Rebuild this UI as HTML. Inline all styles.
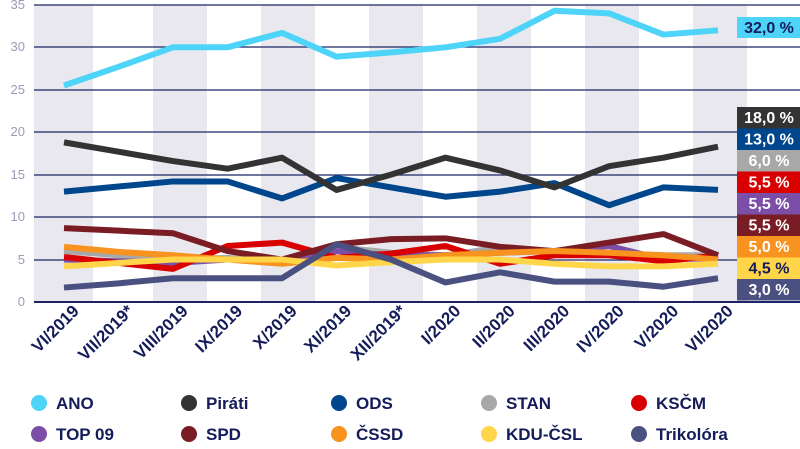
<!DOCTYPE html>
<html><head><meta charset="utf-8"><style>
body{margin:0;background:#fff;}
svg{display:block;font-family:"Liberation Sans",sans-serif;}
</style></head><body>
<svg width="800" height="449" viewBox="0 0 800 449">
<g fill="#e8e8ee">
<rect x="34" y="5" width="59" height="297"/>
<rect x="153" y="5" width="54" height="297"/>
<rect x="261" y="5" width="54" height="297"/>
<rect x="369" y="5" width="54" height="297"/>
<rect x="477" y="5" width="54" height="297"/>
<rect x="585" y="5" width="54" height="297"/>
<rect x="693" y="5" width="54" height="297"/>
</g>
<g stroke="#1c2466" stroke-width="1.3">
<line x1="34" x2="800" y1="5" y2="5"/><line x1="34" x2="800" y1="47" y2="47"/>
<line x1="34" x2="800" y1="90" y2="90"/><line x1="34" x2="800" y1="132" y2="132"/>
<line x1="34" x2="800" y1="175" y2="175"/><line x1="34" x2="800" y1="217" y2="217"/>
<line x1="34" x2="800" y1="260" y2="260"/><line x1="34" x2="800" y1="302" y2="302" stroke-width="2"/>
</g>
<g fill="#9a9cb8" font-size="13" text-anchor="end">
<text x="25" y="9">35</text><text x="25" y="51">30</text><text x="25" y="94">25</text>
<text x="25" y="136">20</text><text x="25" y="179">15</text><text x="25" y="221">10</text>
<text x="25" y="264">5</text><text x="25" y="306">0</text>
</g>
<g fill="none" stroke-width="6" stroke-linejoin="round" id="lines"></g>
<g font-size="17" font-weight="bold" fill="#141c5a" text-anchor="end" id="xl"></g>
<rect x="737" y="17" width="63" height="21" fill="#4dd4f8"/>
<text x="769" y="33" text-anchor="middle" font-size="16" font-weight="bold" fill="#141c5a">32,0 %</text>
<g id="boxes" font-size="16" font-weight="bold" text-anchor="middle"></g>
<g font-size="17" font-weight="bold" fill="#141c5a" id="leg"></g>
</svg>
<script>
var ns="http://www.w3.org/2000/svg";
function el(t,a,p,txt){var e=document.createElementNS(ns,t);for(var k in a)e.setAttribute(k,a[k]);if(txt)e.textContent=txt;p.appendChild(e);return e;}
function X(i){return 64+i*54.5;}function Y(v){return 302-v*8.49;}
var S=[
["#a8a8a8",[6,5.5,5,5.2,4.8,6.5,5.8,5.5,6.4,5.8,5.6,5.5,5.5]],
["#7b4fa8",[5,4.8,4.6,5,5,6,5.5,5.5,5.8,6,6.6,5,5.2]],
["#d80000",[5.3,4.6,3.9,6.6,7,5.2,5.7,6.6,4.5,5.5,5.5,4.8,5.5]],
["#7a1c24",[8.7,8.4,8.1,6,5,6.8,7.4,7.5,6.5,6,7,8,5.5]],
["#f7931e",[6.5,5.9,5.5,5,4.5,5.2,5,5.5,5.8,6,5.8,5.5,5.0]],
["#ffd54a",[4.2,4.6,5,5,5,4.3,4.7,5,5,4.5,4.2,4.2,4.5]],
["#4a5080",[1.7,2.2,2.8,2.8,2.8,6.8,5,2.3,3.5,2.4,2.4,1.8,2.8]],
["#00468c",[13,13.6,14.2,14.2,12.2,14.6,13.5,12.4,13,14,11.4,13.5,13.2]],
["#333333",[18.8,17.7,16.6,15.7,17,13.2,15,17,15.5,13.5,16,17,18.3]],
["#4dd4f8",[25.5,27.7,30,30,31.7,28.9,29.4,30,31,34.3,34,31.5,32]]];
var L=document.getElementById("lines");
S.forEach(function(s){el("polyline",{points:s[1].map(function(v,i){return X(i)+","+Y(v)}).join(" "),stroke:s[0]},L);});
var labs=["VI/2019","VII/2019*","VIII/2019","IX/2019","X/2019","XI/2019","XII/2019*","I/2020","II/2020","III/2020","IV/2020","V/2020","VI/2020"];
var XL=document.getElementById("xl");
labs.forEach(function(t,i){var x=X(i)+16,y=312;el("text",{x:x,y:y,transform:"rotate(-45 "+x+" "+y+")"},XL,t);});
var B=[["#333333","#fff","18,0 %"],["#00468c","#fff","13,0 %"],["#a8a8a8","#fff","6,0 %"],["#d80000","#fff","5,5 %"],["#7b4fa8","#fff","5,5 %"],["#7a1c24","#fff","5,5 %"],["#f7931e","#fff","5,0 %"],["#ffd54a","#141c5a","4,5 %"],["#4a5080","#fff","3,0 %"]];
var BG=document.getElementById("boxes");
B.forEach(function(b,i){var y=107+i*21.5;el("rect",{x:737,y:y,width:63,height:21.5,fill:b[0]},BG);el("text",{x:769,y:y+16,fill:b[1]},BG,b[2]);});
var LG=[["#4dd4f8","ANO"],["#333333","Piráti"],["#00468c","ODS"],["#a8a8a8","STAN"],["#d80000","KSČM"],["#7b4fa8","TOP 09"],["#7a1c24","SPD"],["#f7931e","ČSSD"],["#ffd54a","KDU-ČSL"],["#4a5080","Trikolóra"]];
var LGG=document.getElementById("leg");
LG.forEach(function(l,i){var c=i%5,r=Math.floor(i/5);var x=39+c*150,y=403+r*31;el("circle",{cx:x,cy:y,r:8,fill:l[0]},LGG);el("text",{x:x+17,y:y+6},LGG,l[1]);});
</script>
</body></html>
